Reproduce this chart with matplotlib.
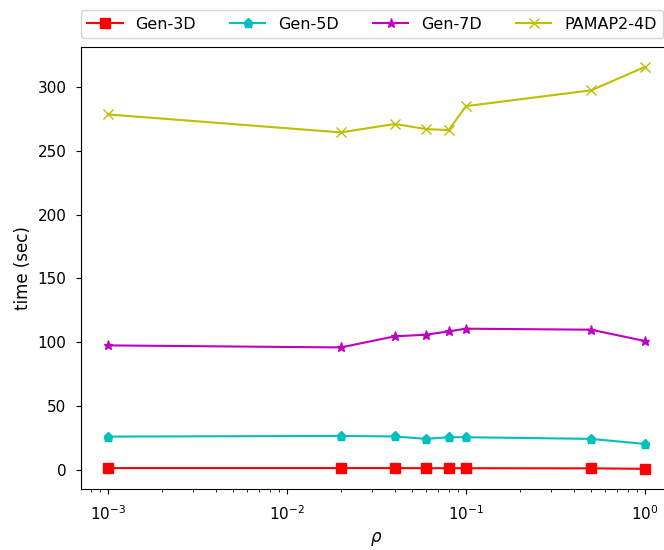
import matplotlib
matplotlib.use('Agg')
import matplotlib.pyplot as plt

rho = [0.001, 0.02, 0.04, 0.06, 0.08, 0.1, 0.5, 1.0]
gen3d = [1.2, 1.2, 1.2, 1.1, 1.1, 1.1, 1.0, 0.6]
gen5d = [25.9, 26.4, 26.0, 24.1, 25.4, 25.4, 24.1, 20.1]
gen7d = [97.4, 95.8, 104.5, 105.8, 108.4, 110.5, 109.7, 100.8]
pamap2 = [278.5, 264.4, 271.0, 267.0, 266.2, 285.0, 297.4, 315.8]

plt.rcParams['xtick.labelsize'] = 11
plt.rcParams['ytick.labelsize'] = 11
plt.rcParams['xtick.major.pad'] = 7.5
plt.rcParams['ytick.major.pad'] = 7
plt.rcParams['axes.labelsize'] = 12

fig = plt.figure(figsize=(6.64, 5.5), dpi=100)
# the original picture is cut at the right edge, so the axes run past it
ax = fig.add_axes([0.122, 0.111, 0.890, 0.804])

ax.plot(rho, gen3d, 'rs-', label='Gen-3D', ms=6.5)
ax.plot(rho, gen5d, 'cp-', label='Gen-5D', ms=6.5)
ax.plot(rho, gen7d, 'm*-', label='Gen-7D', ms=6.5)
ax.plot(rho, pamap2, 'yx-', label='PAMAP2-4D', ms=6.5)
ax.set_xscale('log')
ax.set_xlabel(r'$\rho$', labelpad=5)
ax.set_ylabel('time (sec)')
ax.legend(bbox_to_anchor=(0., 1.02), loc='lower left', ncol=4,
          borderaxespad=0., fontsize=11.5, handlelength=2.2,
          handletextpad=0.8, columnspacing=2.15)

fig.savefig('out.png', dpi=100)
